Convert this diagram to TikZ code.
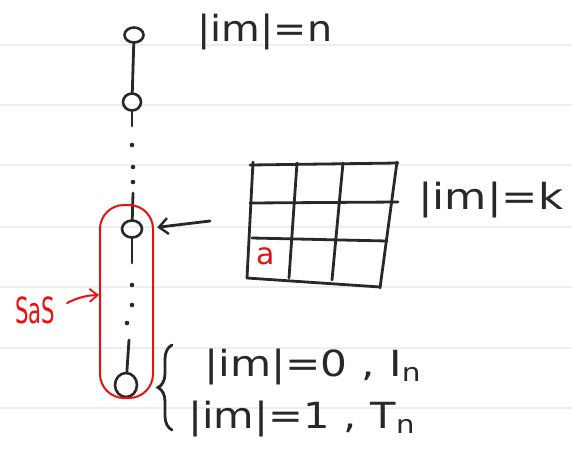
\documentclass[tikz,border=0pt]{standalone}
\usepackage{fontspec}
\newfontfamily\hand{DejaVu Sans}
\usetikzlibrary{arrows.meta,shapes.geometric,decorations.pathreplacing,calc}
\definecolor{inkc}{RGB}{40,40,40}
\definecolor{redink}{RGB}{232,16,16}
\definecolor{rulec}{RGB}{236,239,241}
\begin{document}
\begin{tikzpicture}[x=1pt,y=-1pt,
  ink/.style={draw=inkc, line width=2.8pt, line cap=round},
  redline/.style={draw=redink, line width=2pt, line cap=round},
  ring/.style={ellipse, draw=inkc, line width=2.6pt, inner sep=0pt},
  dotmark/.style={circle, fill=inkc, inner sep=0pt, minimum size=4.6pt},
  txt/.style={inner sep=0pt, text=inkc, font=\hand\fontsize{36}{40}\selectfont, anchor=base west},
  redtxt/.style={inner sep=0pt, text=redink, font=\hand\fontsize{30}{36}\selectfont},
  barb/.style={-{Straight Barb[length=9pt,width=16pt,line width=2.4pt]}}
]
\useasboundingbox (0,0) rectangle (572,450);
\fill[white] (0,0) rectangle (572,450);
% ruled paper lines
\foreach \yy in {45,105,165,227,287,348,408}
  \draw[rulec, line width=1.2pt] (0,\yy) -- (572,\yy);

% chain
\node[ring, minimum width=19pt, minimum height=15pt] (c1) at (134,35) {};
\node[ring, minimum width=18pt, minimum height=17pt] (c2) at (132,102) {};
\node[ring, minimum width=20pt, minimum height=17pt] (c3) at (132,229) {};
\node[ring, minimum width=22pt, minimum height=24pt] (c4) at (126,385) {};
\coordinate (s1) at (132,126);
\coordinate (s2) at (133,193);
\coordinate (s3) at (132,263);
\coordinate (s4) at (129,340);
\draw[ink] (c1) -- (c2);
\draw[ink] (c2) -- (s1);
\draw[ink] (s2) -- (c3);
\draw[ink] (c3) -- (s3);
\draw[ink] (s4) -- (c4);
\node[dotmark] (d1) at (132,145) {};
\node[dotmark] (d2) at (133,167) {};
\node[dotmark] (d3) at (133,182) {};
\node[dotmark] (d4) at (132,285) {};
\node[dotmark] (d5) at (132,305) {};
\node[dotmark] (d6) at (127,323) {};

% grid
\draw[ink] (250,165) -- (398,163);
\draw[ink] (250,203) -- (398,202);
\draw[ink] (252,238) -- (387,241);
\draw[ink] (247,278) -- (380,287);
\draw[ink] (253,162) -- (247,278);
\draw[ink] (297,163) -- (289,278);
\draw[ink] (343,163) -- (332,280);
\draw[ink] (397,162) -- (380,288);
\node[redtxt, font=\hand\fontsize{30}{32}\selectfont] (a) at (266,256) {a};

% arrow from grid to chain
\coordinate (gtail) at (210,221);
\draw[ink, barb, shorten >=14pt] (gtail) -- (c3.east);

% SaS box
\node[draw=redink, line width=2pt, rounded corners=24pt, minimum width=53pt, minimum height=193pt, inner sep=0pt] (sasbox) at (126.5,301.5) {};
\node[redtxt, font=\hand\fontsize{36}{40}\selectfont] (sas) at (35,310) {\resizebox{40pt}{\height}{SaS}};
\coordinate (rtail) at (67,303);
\draw[redline, -{Straight Barb[length=8pt,width=13pt,line width=1.8pt]}] (rtail) to[bend left=12] ($(sasbox.west)+(0,-6.5)$);

% labels
\node[txt] (tn) at (197,41) {\resizebox{135pt}{\height}{|im|=n}};
\node[txt] (tk) at (418,209) {\resizebox{145pt}{\height}{|im|=k}};
\coordinate (brB) at (172,430);
\coordinate (brT) at (172,345);
\draw[ink, decorate, decoration={brace, amplitude=14pt}] (brB) -- (brT);
\node[txt] (t0) at (204,376) {\resizebox{217pt}{\height}{|im|=0\,\,,\,\,I\textsubscript{n}}};
\node[txt] (t1) at (188,428) {\resizebox{227pt}{\height}{|im|=1\,\,,\,\,T\textsubscript{n}}};
\end{tikzpicture}
\end{document}
